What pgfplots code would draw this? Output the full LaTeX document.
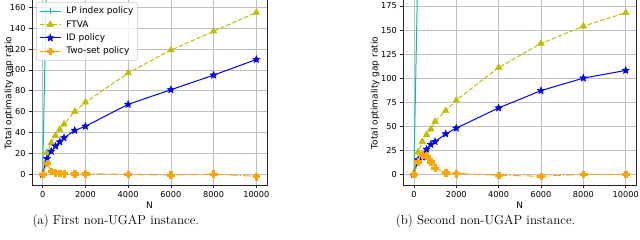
\documentclass[border=0pt]{standalone}
\usepackage{pgfplots}
\pgfplotsset{compat=1.18}
\usepackage{fontspec}
\newfontfamily\dejavu{DejaVu Sans}
\definecolor{lpc}{rgb}{0,0.75,0.75}
\definecolor{ftvac}{rgb}{0.75,0.75,0}
\definecolor{idc}{rgb}{0,0,1}
\definecolor{twoc}{rgb}{1,0.647,0}
\pgfdeclareplotmark{fstar}{%
  \pgfpathmoveto{\pgfpointpolar{90}{\pgfplotmarksize}}%
  \pgfpathlineto{\pgfpointpolar{126}{0.45\pgfplotmarksize}}%
  \pgfpathlineto{\pgfpointpolar{162}{\pgfplotmarksize}}%
  \pgfpathlineto{\pgfpointpolar{198}{0.45\pgfplotmarksize}}%
  \pgfpathlineto{\pgfpointpolar{234}{\pgfplotmarksize}}%
  \pgfpathlineto{\pgfpointpolar{270}{0.45\pgfplotmarksize}}%
  \pgfpathlineto{\pgfpointpolar{306}{\pgfplotmarksize}}%
  \pgfpathlineto{\pgfpointpolar{342}{0.45\pgfplotmarksize}}%
  \pgfpathlineto{\pgfpointpolar{18}{\pgfplotmarksize}}%
  \pgfpathlineto{\pgfpointpolar{54}{0.45\pgfplotmarksize}}%
  \pgfpathclose
  \pgfusepathqfillstroke}
\pgfdeclareplotmark{fplus}{%
  \pgfpathmoveto{\pgfpoint{-\pgfplotmarksize}{-0.34\pgfplotmarksize}}%
  \pgfpathlineto{\pgfpoint{-0.34\pgfplotmarksize}{-0.34\pgfplotmarksize}}%
  \pgfpathlineto{\pgfpoint{-0.34\pgfplotmarksize}{-\pgfplotmarksize}}%
  \pgfpathlineto{\pgfpoint{0.34\pgfplotmarksize}{-\pgfplotmarksize}}%
  \pgfpathlineto{\pgfpoint{0.34\pgfplotmarksize}{-0.34\pgfplotmarksize}}%
  \pgfpathlineto{\pgfpoint{\pgfplotmarksize}{-0.34\pgfplotmarksize}}%
  \pgfpathlineto{\pgfpoint{\pgfplotmarksize}{0.34\pgfplotmarksize}}%
  \pgfpathlineto{\pgfpoint{0.34\pgfplotmarksize}{0.34\pgfplotmarksize}}%
  \pgfpathlineto{\pgfpoint{0.34\pgfplotmarksize}{\pgfplotmarksize}}%
  \pgfpathlineto{\pgfpoint{-0.34\pgfplotmarksize}{\pgfplotmarksize}}%
  \pgfpathlineto{\pgfpoint{-0.34\pgfplotmarksize}{0.34\pgfplotmarksize}}%
  \pgfpathlineto{\pgfpoint{-\pgfplotmarksize}{0.34\pgfplotmarksize}}%
  \pgfpathclose
  \pgfusepathqfillstroke}
\pgfplotsset{
  myaxis/.style={
    scale only axis, height=187bp, anchor=north west,
    xmin=-500, xmax=10500,
    xtick={0,2000,4000,6000,8000,10000},
    scaled x ticks=false,
    /pgf/number format/set thousands separator={},
    /pgf/number format/assume math mode=true,
    tick label style={font=\dejavu\fontsize{8.2}{9}\selectfont},
    label style={font=\dejavu\fontsize{9}{10}\selectfont},
    grid=major, major grid style={color=black!25, line width=0.6bp},
    axis line style={black!85, line width=0.6bp},
    tick align=outside, xtick pos=lower, ytick pos=left,
    major tick length=3bp, tick style={black!85, line width=0.6bp},
    xlabel={N},
    xlabel style={at={(axis description cs:0.5,0)}, anchor=center, yshift=-20bp},
    ylabel={Total optimality gap ratio},
    every axis plot/.append style={line width=1bp},
    legend cell align=left,
    legend image code/.code={\draw[sharp corners, fill opacity=1, mark repeat=2, mark phase=2] plot coordinates {(0bp,0bp) (10.5bp,0bp) (21bp,0bp)};},
  },
  lp/.style={color=lpc, solid, mark=+, mark size=3bp, mark options={solid}},
  ftva/.style={color=ftvac, dash pattern=on 4.5bp off 2bp, mark=triangle*, mark size=3.8bp, mark options={solid, line width=0.5bp}},
  idp/.style={color=idc, solid, mark=fstar, mark size=3.7bp, mark options={solid, line width=0.5bp}},
  two/.style={color=twoc, dash pattern=on 8bp off 2bp on 1.3bp off 2bp, mark=fplus, mark size=3.4bp, mark options={solid, line width=0.5bp}},
}
\begin{document}
\begin{tikzpicture}
\useasboundingbox (0,0) rectangle (640bp,-240bp);
% ---------- (a) ----------
\begin{axis}[myaxis, at={(32bp,2bp)}, width=235bp,
  ymin=-10.25, ymax=168.9, ytick={0,20,...,160},
  ylabel style={at={(axis description cs:-0.098,0.492)}, anchor=center},
  legend style={at={(axis description cs:0.017,0.979)}, anchor=north west,
    draw=black!20, line width=0.6bp, rounded corners=2bp, fill=white,
    fill opacity=0.8, draw opacity=1, text opacity=1,
    font=\dejavu\fontsize{9}{10}\selectfont,
    inner xsep=3bp, inner ysep=4bp, row sep=3bp, column sep=4bp,
    nodes={inner sep=1bp, text height=6.5bp, text depth=1.8bp}},
]
\addplot[lp] coordinates {(0,0) (200,209)};
\addlegendentry{LP index policy}
\addplot[ftva] coordinates {(0,0) (200,21) (400,30) (600,37) (800,43) (1000,48) (1500,60) (2000,69) (4000,97) (6000,119) (8000,137) (10000,155)};
\addlegendentry{FTVA}
\addplot[idp] coordinates {(0,0) (200,15) (400,22) (600,27) (800,31) (1000,35) (1500,42) (2000,46) (4000,67) (6000,81) (8000,95) (10000,110)};
\addlegendentry{ID policy}
\addplot[two] coordinates {(0,0) (200,10.5) (400,3) (600,1.8) (800,1) (1000,0.8) (1500,0.5) (2000,0.5) (4000,0) (6000,-0.8) (8000,0.3) (10000,-2)};
\addlegendentry{Two-set policy}
\end{axis}
% ---------- (b) ----------
\begin{axis}[myaxis, at={(403.3bp,2bp)}, width=233bp,
  ymin=-11.1, ymax=183.3, ytick={0,25,...,175},
  ylabel style={at={(axis description cs:-0.121,0.492)}, anchor=center},
]
\addplot[lp] coordinates {(0,0) (200,230)};
\addplot[ftva] coordinates {(0,0) (200,23) (400,34) (600,41) (800,47) (1000,55) (1500,66) (2000,77) (4000,111) (6000,136) (8000,154) (10000,168)};
\addplot[idp] coordinates {(0,0) (200,15) (400,18) (600,26) (800,31) (1000,34) (1500,42) (2000,48) (4000,69) (6000,87) (8000,100) (10000,108)};
\addplot[two] coordinates {(0,0) (200,13) (400,20.5) (600,19) (800,13) (1000,6.5) (1500,1.5) (2000,1) (4000,-1) (6000,-2) (8000,0) (10000,0)};
\end{axis}
\node[anchor=base west, inner sep=0pt, font=\fontsize{13}{15}\selectfont] at (32.3bp,-224bp) {(a) First non-UGAP instance.};
\node[anchor=base west, inner sep=0pt, font=\fontsize{13}{15}\selectfont] at (395.7bp,-224bp) {(b) Second non-UGAP instance.};
\end{tikzpicture}
\end{document}
